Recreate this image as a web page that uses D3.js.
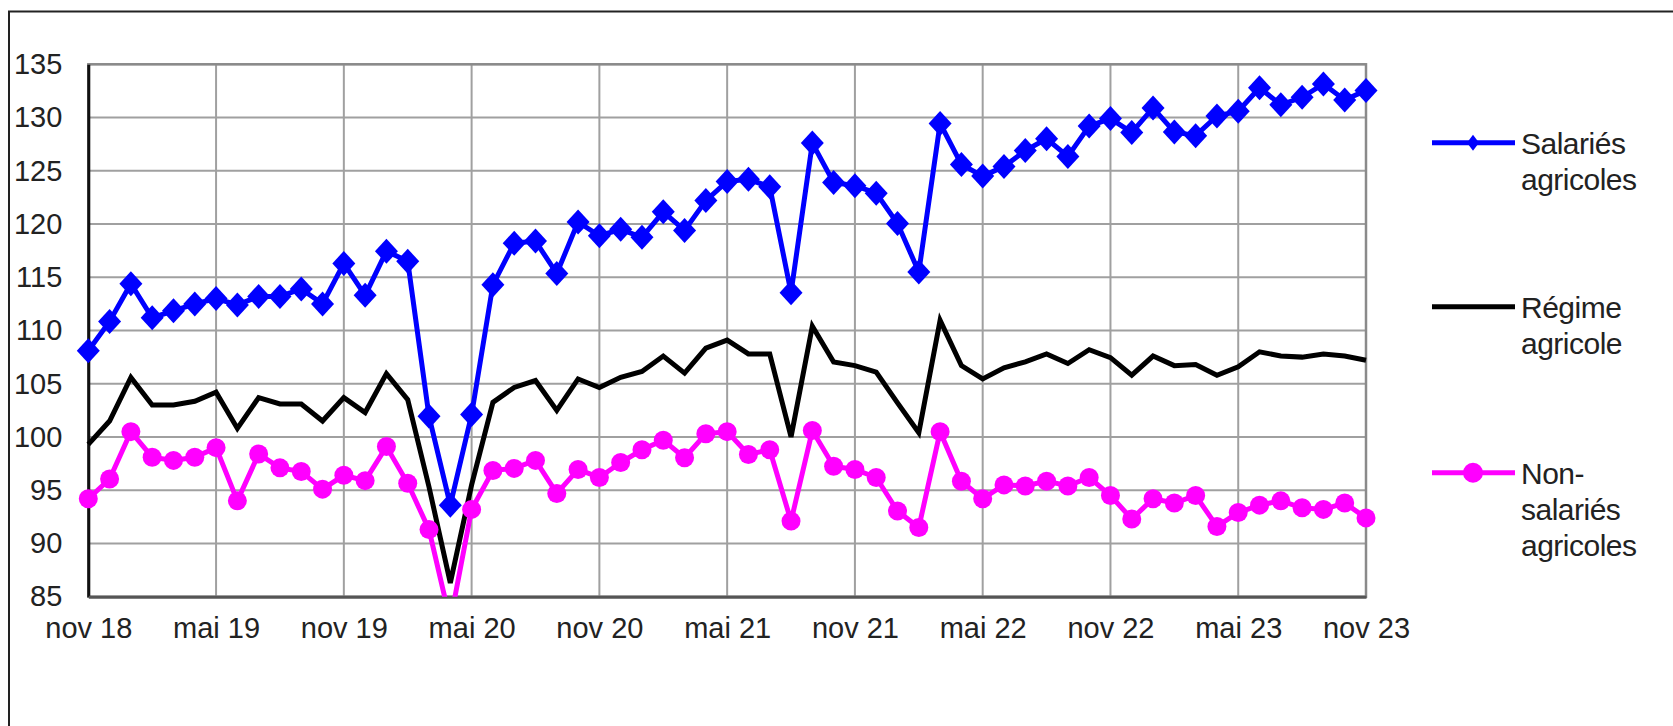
<!DOCTYPE html>
<html><head><meta charset="utf-8">
<script src="https://cdn.jsdelivr.net/npm/d3@7"></script>
<style>
html,body{margin:0;padding:0;background:#fff;}
svg{display:block;}
text{font-family:"Liberation Sans",Arial,sans-serif;fill:#222;}
</style></head>
<body>
<svg id="c" width="1673" height="726"></svg>
<script>
const months = ["nov 18","déc 18","janv 19","févr 19","mars 19","avr 19","mai 19","juin 19","juil 19","août 19","sept 19","oct 19",
"nov 19","déc 19","janv 20","févr 20","mars 20","avr 20","mai 20","juin 20","juil 20","août 20","sept 20","oct 20",
"nov 20","déc 20","janv 21","févr 21","mars 21","avr 21","mai 21","juin 21","juil 21","août 21","sept 21","oct 21",
"nov 21","déc 21","janv 22","févr 22","mars 22","avr 22","mai 22","juin 22","juil 22","août 22","sept 22","oct 22",
"nov 22","déc 22","janv 23","févr 23","mars 23","avr 23","mai 23","juin 23","juil 23","août 23","sept 23","oct 23","nov 23"];
const xTickLabels = ["nov 18","mai 19","nov 19","mai 20","nov 20","mai 21","nov 21","mai 22","nov 22","mai 23","nov 23"];
const yTicks = [85,90,95,100,105,110,115,120,125,130,135];

const salaries = [108.1,110.85,114.4,111.2,111.85,112.5,113.0,112.4,113.2,113.2,113.9,112.5,
116.3,113.3,117.45,116.5,101.95,93.6,102.1,114.3,118.2,118.4,115.35,120.2,
118.9,119.5,118.75,121.15,119.4,122.2,124.0,124.2,123.5,113.55,127.6,123.9,
123.6,122.9,120.05,115.5,129.45,125.6,124.5,125.4,126.9,128.0,126.35,129.2,
129.9,128.6,130.9,128.65,128.3,130.15,130.6,132.8,131.2,131.9,133.15,131.65,132.55];
const regime = [99.3,101.5,105.6,103.0,103.0,103.35,104.2,100.8,103.7,103.1,103.1,101.5,
103.7,102.3,105.95,103.5,95.3,86.3,95.5,103.25,104.65,105.3,102.5,105.45,
104.65,105.6,106.15,107.6,106.0,108.35,109.1,107.8,107.8,100.0,110.4,107.05,
106.7,106.1,103.2,100.4,110.95,106.7,105.45,106.5,107.05,107.8,106.9,108.2,
107.45,105.8,107.6,106.7,106.8,105.8,106.6,108.0,107.6,107.5,107.8,107.6,107.2];
const nonSalaries = [94.2,96.05,100.5,98.1,97.8,98.1,99.0,94.0,98.4,97.1,96.75,95.1,
96.4,95.9,99.1,95.65,91.3,82.7,93.2,96.85,97.05,97.8,94.7,96.95,
96.2,97.6,98.8,99.7,98.05,100.3,100.5,98.35,98.8,92.1,100.6,97.25,
96.95,96.2,93.05,91.5,100.5,95.85,94.2,95.5,95.4,95.85,95.4,96.2,
94.5,92.3,94.2,93.8,94.5,91.6,92.9,93.6,94.0,93.35,93.2,93.8,92.4];

const seriesNames = [["Salariés","agricoles"],["Régime","agricole"],["Non-","salariés","agricoles"]];
const colors = ["#0000ff","#000000","#ff00ff"];

const svg = d3.select("#c");
const L = 88.3, R = 1366, T = 64.3, B = 596.7;
const x = d3.scalePoint().domain(months).range([L, R]);
const y = d3.scaleLinear().domain([85,135]).range([B, T]);

// outer frame
svg.append("path").attr("d", `M9,726 L9,11.5 L1673,11.5`).attr("fill","none").attr("stroke","#222").attr("stroke-width",2);

// grid
const grid = svg.append("g");
grid.selectAll("line.h").data(yTicks).join("line")
  .attr("x1", L).attr("x2", R).attr("y1", d=>y(d)).attr("y2", d=>y(d))
  .attr("stroke","#a0a0a0").attr("stroke-width",2);
grid.selectAll("line.v").data(xTickLabels).join("line")
  .attr("x1", d=>x(d)).attr("x2", d=>x(d)).attr("y1", T).attr("y2", B)
  .attr("stroke","#a0a0a0").attr("stroke-width",2);
svg.append("rect").attr("x",L).attr("y",T).attr("width",R-L).attr("height",B-T)
  .attr("fill","none").attr("stroke","#8a8a8a").attr("stroke-width",2.5);

// axes
const yAxis = svg.append("g").attr("transform",`translate(${L},0)`)
  .call(d3.axisLeft(y).tickValues(yTicks).tickSize(0).tickPadding(26).tickFormat(d3.format("d")));
yAxis.select(".domain").attr("stroke","#111").attr("stroke-width",3);
yAxis.selectAll("text").attr("font-size",29).attr("fill","#222").attr("font-family","Liberation Sans, Arial, sans-serif");

const xAxis = svg.append("g").attr("transform",`translate(0,${B})`)
  .call(d3.axisBottom(x).tickValues(xTickLabels).tickSize(0).tickPadding(21));
xAxis.select(".domain").attr("stroke","#555").attr("stroke-width",3);
xAxis.selectAll("text").attr("font-size",29).attr("fill","#222").attr("font-family","Liberation Sans, Arial, sans-serif");

// clip
svg.append("clipPath").attr("id","clip").append("rect").attr("x",L-15).attr("y",T-20).attr("width",R-L+30).attr("height",B-T+20);

const plot = svg.append("g").attr("clip-path","url(#clip)");
const line = d3.line().x((d,i)=>x(months[i])).y(d=>y(d));

plot.append("path").datum(regime).attr("d",line).attr("fill","none").attr("stroke",colors[1]).attr("stroke-width",5);
plot.append("path").datum(nonSalaries).attr("d",line).attr("fill","none").attr("stroke",colors[2]).attr("stroke-width",5);
plot.append("path").datum(salaries).attr("d",line).attr("fill","none").attr("stroke",colors[0]).attr("stroke-width",5);

plot.selectAll("circle.ns").data(nonSalaries).join("circle")
  .attr("cx",(d,i)=>x(months[i])).attr("cy",d=>y(d)).attr("r",9.5).attr("fill",colors[2]);
const dw = 11.5, dh = 12.5;
plot.selectAll("path.sd").data(salaries).join("path")
  .attr("d",(d,i)=>{const cx=x(months[i]), cy=y(d); return `M${cx},${cy-dh}L${cx+dw},${cy}L${cx},${cy+dh}L${cx-dw},${cy}Z`;})
  .attr("fill",colors[0]);

// legend
const legY = [142.7, 306.7, 472.7];
const lg = svg.append("g");
seriesNames.forEach((lines,k)=>{
  lg.append("line").attr("x1",1432).attr("x2",1515).attr("y1",legY[k]).attr("y2",legY[k]).attr("stroke",colors[k]).attr("stroke-width",5);
  if(k===0){ const cx=1473, cy=legY[k]; lg.append("path").attr("d",`M${cx},${cy-8}L${cx+6},${cy}L${cx},${cy+8}L${cx-6},${cy}Z`).attr("fill",colors[0]); }
  if(k===2){ lg.append("circle").attr("cx",1473).attr("cy",legY[k]).attr("r",10).attr("fill",colors[2]); }
  const t = lg.append("text").attr("x",1521).attr("y",legY[k]+11).attr("font-size",30).attr("letter-spacing",-0.5);
  lines.forEach((s,j)=>t.append("tspan").attr("x",1521).attr("dy", j===0?0:36).text(s));
});
</script>
</body></html>
